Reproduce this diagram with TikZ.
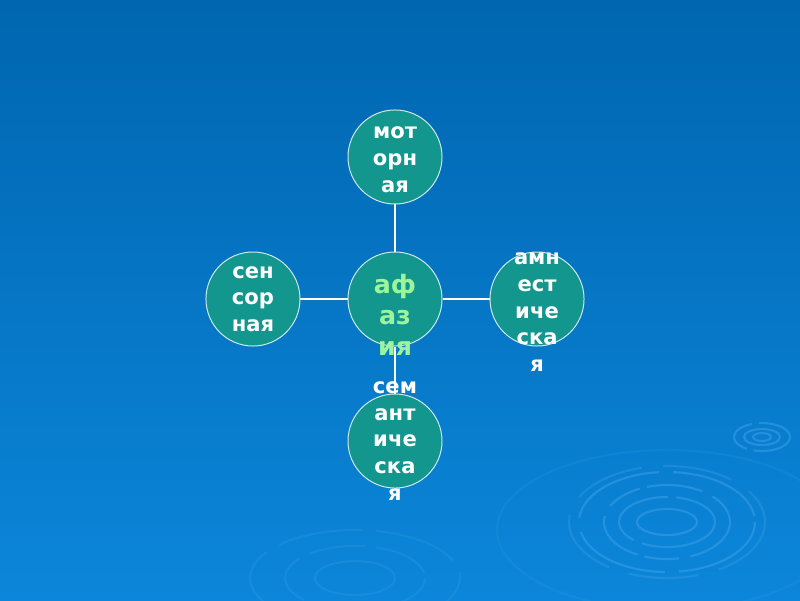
\documentclass[tikz,border=0pt]{standalone}
\usepackage{fontspec}
\setmainfont{DejaVu Sans}
\usepackage{xcolor}
\usepackage{tikz}
\usetikzlibrary{positioning}
\definecolor{slideTop}{HTML}{0066B0}
\definecolor{slideBot}{HTML}{0C86DA}
\definecolor{tealBub}{HTML}{12968E}
\definecolor{bubRim}{HTML}{CFEAE8}
\definecolor{lightGreen}{HTML}{9CF59C}
\definecolor{ripple}{HTML}{45A6EC}

\begin{document}
\begin{tikzpicture}[
  x=0.025cm, y=-0.025cm,
  node distance=1.175cm,
  bub/.style={circle, draw=bubRim, line width=0.7pt, fill=tealBub, minimum size=2.35cm, inner sep=0pt},
  txt/.style={align=center, text=white, font=\bfseries\fontsize{15}{19}\selectfont, inner sep=0pt},
  link/.style={draw=white, line width=1.1pt},
  wave/.style={draw=ripple, line width=1.5pt, opacity=0.45}
]
% background
\shade[top color=slideTop, bottom color=slideBot] (0,0) rectangle (800,600);
\useasboundingbox (0,0) rectangle (800,600);

% ripples
\draw[wave] (667,522) ellipse (30 and 13);
\draw[wave, dash pattern=on 60pt off 6pt] (667,522) ellipse (48 and 25);
\draw[wave, dash pattern=on 40pt off 8pt on 25pt off 5pt] (667,522) ellipse (63 and 37);
\draw[wave, dash pattern=on 70pt off 10pt] (667,522) ellipse (88 and 50);
\draw[wave, opacity=0.3, dash pattern=on 50pt off 15pt] (667,522) ellipse (98 and 56);
\draw[wave, opacity=0.15] (667,530) ellipse (170 and 80);
\draw[wave] (762,437) ellipse (9 and 4);
\draw[wave] (762,437) ellipse (18 and 8);
\draw[wave, dash pattern=on 30pt off 5pt] (762,437) ellipse (28 and 14);
\draw[wave, opacity=0.2] (355,578) ellipse (40 and 17);
\draw[wave, opacity=0.2, dash pattern=on 40pt off 8pt] (355,578) ellipse (70 and 32);
\draw[wave, opacity=0.2, dash pattern=on 60pt off 10pt] (355,578) ellipse (105 and 48);

% bubbles
\node[bub] (afazia) at (395,299) {};
\node[bub, above=of afazia] (motor) {};
\node[bub, left=of afazia] (sensor) {};
\node[bub, right=of afazia] (amnest) {};
\node[bub, below=of afazia] (semant) {};

\draw[link] (afazia) -- (motor);
\draw[link] (afazia) -- (sensor);
\draw[link] (afazia) -- (amnest);
\draw[link] (afazia) -- (semant);

% labels
\node[txt, font=\bfseries\fontsize{18}{22}\selectfont, text=lightGreen, yshift=-0.4cm] (afaziaT) at (afazia) {аф\\аз\\ия};
\node[txt, yshift=-0.07cm] (motorT) at (motor) {мот\\орн\\ая};
\node[txt] (sensorT) at (sensor) {сен\\сор\\ная};
\node[txt, yshift=-0.33cm] (amnestT) at (amnest) {амн\\ест\\иче\\ска\\я};
\node[txt] (semantT) at (semant) {сем\\ант\\иче\\ска\\я};
\end{tikzpicture}
\end{document}
